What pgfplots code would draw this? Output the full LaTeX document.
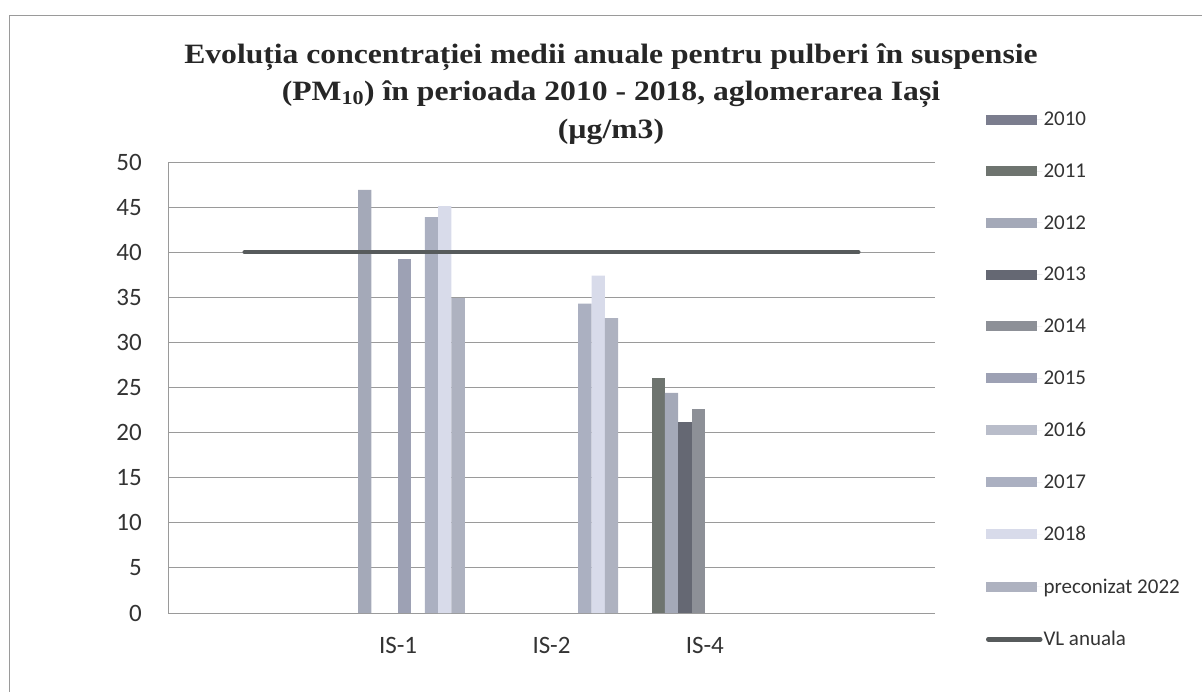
\documentclass[border=0pt]{standalone}
\usepackage{pgfplots}
\pgfplotsset{compat=1.18}
\usepackage{fontspec}
\setmainfont{Carlito}
\newfontfamily\titlefont{Liberation Serif}[FakeStretch=1.13]
\definecolor{c2010}{HTML}{7B7D8E}
\definecolor{c2011}{HTML}{6E746F}
\definecolor{c2012}{HTML}{A4A9B8}
\definecolor{c2013}{HTML}{656873}
\definecolor{c2014}{HTML}{8D9097}
\definecolor{c2015}{HTML}{9DA1B4}
\definecolor{c2016}{HTML}{B9BDCA}
\definecolor{c2017}{HTML}{ABB0C1}
\definecolor{c2018}{HTML}{D8DBEA}
\definecolor{c2022}{HTML}{AEB2C0}
\definecolor{cvl}{HTML}{575B5C}
\definecolor{cgrid}{HTML}{9A9A9A}
\pgfplotsset{barleg/.style={legend image code/.code={\fill[##1] (0bp,-5bp) rectangle (51bp,5bp); \path (0bp,0bp) -- (56bp,0bp);}}}
\begin{document}
\begin{tikzpicture}
\path[use as bounding box] (0,0) rectangle (1202bp,-692bp);
\draw[cgrid, line width=0.8bp] (9bp,-692bp) -- (9bp,-15bp) -- (1202bp,-15bp);
\begin{scope}[every node/.style={font=\titlefont\bfseries\fontsize{28bp}{32bp}\selectfont, anchor=base, text=black!85, inner sep=0pt}]
\node at (611bp,-63bp) {Evoluția concentrației medii anuale pentru pulberi în suspensie};
\node at (611bp,-100.5bp) {(PM\textsubscript{10}) în perioada 2010 - 2018, aglomerarea Iași};
\node at (611bp,-138bp) {(µg/m3)};
\end{scope}
\begin{axis}[
  at={(168bp,-613bp)}, anchor=south west,
  scale only axis, width=767bp, height=451bp,
  xmin=-0.5, xmax=4.5, ymin=0, ymax=50,
  ytick={0,5,...,50}, xtick={0,1,2,3,4}, xticklabels={,IS-1,IS-2,IS-4,},
  major tick length=0pt,
  ymajorgrids, grid style={draw=cgrid, line width=0.9bp},
  axis x line*=bottom, axis y line*=left,
  axis line style={draw=cgrid, line width=0.9bp, -},
  tick label style={font=\fontsize{25bp}{25bp}\selectfont, text=black!80},
  /pgf/number format/assume math mode=true,
  yticklabel style={anchor=east, inner sep=0pt, xshift=-26bp},
  xticklabel style={anchor=base, inner sep=0pt, yshift=-40bp},
  ybar, bar width=13.34bp,
  legend style={at={(1.0665,1.1109)}, anchor=north west, draw=none, fill=none,
    inner sep=0pt, outer sep=0pt, row sep=36.6bp, column sep=1bp,
    font=\fontsize{21bp}{21bp}\selectfont, text=black!80,
    nodes={inner sep=0pt}},
  legend cell align=left,
]
\addlegendimage{fill=c2010, draw=none, barleg}
\addlegendentry{2010}
\addplot[fill=c2011, draw=none, bar shift=-46.69bp, barleg] coordinates {(3,26.0)};
\addlegendentry{2011}
\addplot[fill=c2012, draw=none, bar shift=-33.35bp, barleg] coordinates {(1,46.9) (3,24.4)};
\addlegendentry{2012}
\addplot[fill=c2013, draw=none, bar shift=-20.01bp, barleg] coordinates {(3,21.2)};
\addlegendentry{2013}
\addplot[fill=c2014, draw=none, bar shift=-6.67bp, barleg] coordinates {(3,22.6)};
\addlegendentry{2014}
\addplot[fill=c2015, draw=none, bar shift=6.67bp, barleg] coordinates {(1,39.2)};
\addlegendentry{2015}
\addlegendimage{fill=c2016, draw=none, barleg}
\addlegendentry{2016}
\addplot[fill=c2017, draw=none, bar shift=33.35bp, barleg] coordinates {(1,43.9) (2,34.3)};
\addlegendentry{2017}
\addplot[fill=c2018, draw=none, bar shift=46.69bp, barleg] coordinates {(1,45.1) (2,37.4)};
\addlegendentry{2018}
\addplot[fill=c2022, draw=none, bar shift=60.03bp, barleg] coordinates {(1,34.9) (2,32.7)};
\addlegendentry{preconizat 2022}
\addplot[sharp plot, draw=cvl, line width=4.5bp, line cap=round, mark=none,
  legend image code/.code={\draw[cvl, line width=4.5bp, line cap=round] (2bp,0bp) -- (54bp,0bp);}]
  coordinates {(0,40) (1,40) (2,40) (3,40) (4,40)};
\addlegendentry{VL anuala}
\end{axis}
\end{tikzpicture}
\end{document}
